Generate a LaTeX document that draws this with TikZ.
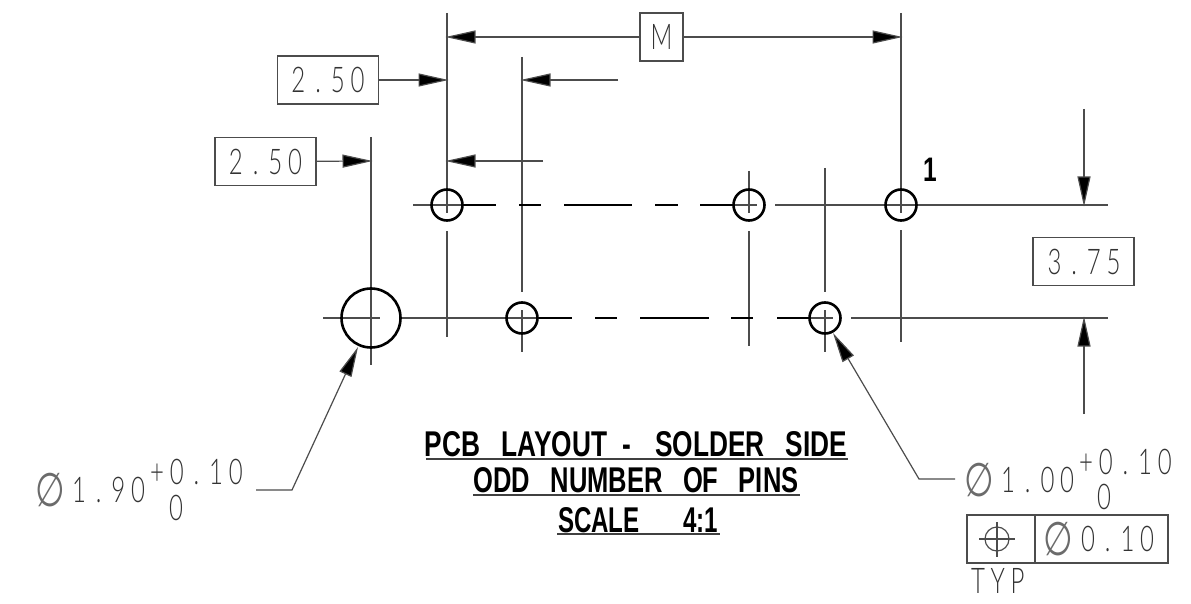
\documentclass[tikz,border=0pt]{standalone}
\usepackage{fontspec}
\usepackage{graphicx}
\setmainfont{Liberation Sans}
\newfontfamily\dimf{Lato Light}
\newfontfamily\symf{DejaVu Sans}
\newfontfamily\boldf{Liberation Sans}
\usetikzlibrary{arrows.meta}
\definecolor{thin}{gray}{0.3}
\definecolor{dimink}{gray}{0.2}
\definecolor{symink}{gray}{0.42}
\tikzset{
  thinl/.style={draw=thin,line width=1.2pt},
  thickl/.style={draw=black,line width=2.8pt},
  hole/.style={draw=black,line width=2.6pt,circle,inner sep=0pt},
  dimarrow/.style={thinl,shorten >=-1.5pt,-{Triangle[length=30pt,width=13pt,fill=black]}},
  dimbox/.style={draw=thin,line width=1.2pt,rectangle,minimum height=48pt,minimum width=101pt,inner sep=0pt},
  dimtext/.style={inner sep=0pt,text=dimink,font=\dimf\fontsize{30}{30}\selectfont},
  symtext/.style={inner sep=0pt,text=symink,font=\symf\fontsize{34}{34}\selectfont},
  title/.style={inner sep=0pt,font=\boldf\bfseries\fontsize{33}{33}\selectfont,text=black},
  titlerule/.style={draw=black!75,line width=1.4pt}
}
\newcommand{\cad}[1]{\cadloop#1\relax}
\def\cadloop#1{\ifx#1\relax\else\makebox[19.7pt]{\scalebox{0.8}[1.18]{#1}}\expandafter\cadloop\fi}
\newcommand{\dia}{\scalebox{1}[1.38]{∅}}
\begin{document}
\begin{tikzpicture}[x=1pt,y=-1pt]
\useasboundingbox (0,0) rectangle (1191,604);
% vertical extension lines
\draw[thinl] (447,13)--(447,213) (447,231)--(447,337);
\draw[thinl] (522,57)--(522,292) (522,310)--(522,352);
\draw[thinl] (901,13)--(901,213) (901,230)--(901,342);
\draw[thinl] (749,171)--(749,213) (749,231)--(749,346);
\draw[thinl] (825,168)--(825,292) (825,310)--(825,352);
\draw[thinl] (371,137)--(371,365);
% centre lines
\draw[thinl] (413,205)--(463,205) (735,205)--(757,205) (775,205)--(1108,205);
\draw[thickl] (463,205)--(496,205) (519,205)--(541,205) (564,205)--(632,205) (655,205)--(678,205) (700,205)--(735,205);
\draw[thinl] (323,318)--(380,318) (402,318)--(539,318) (810,318)--(833,318) (851,318)--(1108,318);
\draw[thickl] (539,318)--(572,318) (595,318)--(617,318) (640,318)--(709,318) (731,318)--(753,318) (777,318)--(810,318);
% holes
\node[hole,minimum size=31pt] (h1) at (447,205) {};
\node[hole,minimum size=31pt] (h2) at (749,205) {};
\node[hole,minimum size=31pt] (h3) at (901,205) {};
\node[hole,minimum size=31pt] (h4) at (522,318) {};
\node[hole,minimum size=31pt] (h5) at (825,318) {};
\node[hole,minimum size=59pt] (h6) at (371,318) {};
% M dim
\node[draw=thin,line width=1.2pt,minimum width=43pt,minimum height=48pt,inner sep=0pt,fill=white,dimtext] (mbox) at (661.5,37) {\cad{M}};
\coordinate (ml) at (447,37); \coordinate (mr) at (901,37);
\draw[dimarrow] (mbox)--(ml);
\draw[dimarrow] (mbox)--(mr);
% 2.50 upper
\node[dimbox] (a) at (328,80) {};
\node[dimtext] (at1) at (328,80) {\cad{2.50}};
\coordinate (at) at (447,80);
\draw[dimarrow] (a)--(at);
\coordinate (bs) at (618,80); \coordinate (bt) at (522,80);
\draw[dimarrow] (bs)--(bt);
% 2.50 lower
\node[dimbox] (c) at (265.5,161.5) {};
\node[dimtext] (ct1) at (265.5,162) {\cad{2.50}};
\coordinate (ct) at (371,161);
\draw[dimarrow] (c)--(ct);
\coordinate (ds) at (543,161); \coordinate (dt) at (447,161);
\draw[dimarrow] (ds)--(dt);
% pin 1
\node[inner sep=0pt,font=\boldf\bfseries\fontsize{34}{34}\selectfont] (pin) at (930,170) {\scalebox{0.72}[1]{1}};
% 3.75
\node[dimbox] (e) at (1083.5,261.5) {};
\node[dimtext] (e1) at (1084,262) {\cad{3.75}};
\coordinate (f1) at (1084,109); \coordinate (f2) at (1084,205);
\coordinate (g1) at (1084,414); \coordinate (g2) at (1084,318);
\draw[dimarrow] (f1)--(f2);
\draw[dimarrow] (g1)--(g2);
% leaders
\coordinate (l1) at (256,490); \coordinate (l2) at (292,490); \coordinate (l3) at (358,347);
\draw[thinl,-{Triangle[length=30pt,width=13pt,fill=black]}] (l1)--(l2)--(l3);
\coordinate (r1) at (955,479); \coordinate (r2) at (919,479); \coordinate (r3) at (833,333);
\draw[thinl,-{Triangle[length=30pt,width=13pt,fill=black]}] (r1)--(r2)--(r3);
% left tolerance
\node[symtext] (d1) at (50.5,490) {\dia};
\node[dimtext,anchor=west] (d2) at (69,490) {\cad{1.90}};
\node[dimtext,anchor=west] (d3) at (147,472) {\cad{+0.10}};
\node[dimtext] (d4) at (176,508) {\cad{0}};
% right tolerance
\node[symtext] (r4) at (979.5,480) {\dia};
\node[dimtext,anchor=west] (r5) at (998,480) {\cad{1.00}};
\node[dimtext,anchor=west] (r6) at (1076,462) {\cad{+0.10}};
\node[dimtext] (r7) at (1104,497) {\cad{0}};
% feature control frame
\node[draw=thin,line width=1.2pt,minimum width=68pt,minimum height=48pt,inner sep=0pt] (fa) at (1001,539) {};
\node[draw=thin,line width=1.2pt,minimum width=133pt,minimum height=48pt,inner sep=0pt] (fb) at (1101.5,539) {};
\node[circle,draw=thin,line width=1.2pt,minimum size=24pt,inner sep=0pt] (pos) at (997,539) {};
\draw[thinl] (979,539)--(1015,539) (997,522)--(997,557);
\node[symtext] (f3) at (1058.5,539) {\dia};
\node[dimtext,anchor=west] (f4) at (1078,539) {\cad{0.10}};
\node[dimtext,anchor=west] (f5) at (968,581) {\cad{TYP}};
% title
\node[title] (t1) at (636,444) {\resizebox{422pt}{25pt}{PCB\hspace{.8em}LAYOUT\hspace{.6em}-\hspace{.9em}SOLDER\hspace{.8em}SIDE}};
\node[title] (t2) at (636,480) {\resizebox{325pt}{25pt}{ODD\hspace{.8em}NUMBER\hspace{.8em}OF\hspace{.8em}PINS}};
\node[title] (t3) at (638,520) {\resizebox{160pt}{25pt}{SCALE\hspace{1.8em}4:1}};
\draw[titlerule] (426,459)--(848,459) (473,495)--(800,495) (557,534)--(720,534);
\end{tikzpicture}
\end{document}
